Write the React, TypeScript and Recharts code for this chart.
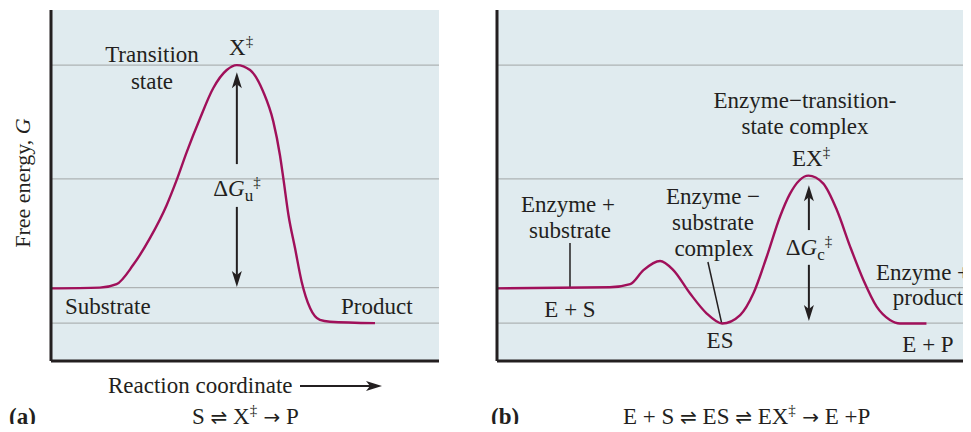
import React from "react";
import { LineChart, Line, XAxis, YAxis, CartesianGrid, ReferenceLine } from "recharts";

// energy levels (free energy, arbitrary units 0–100) shown as grid lines
const levels = [10.8, 20.9, 51.9, 84.3];

// (a) uncatalysed reaction: reaction coordinate vs free energy
const coordA = [0, 12.6, 16.9, 21.2, 25.5, 29.8, 32.4, 35, 38.4, 41.8, 45.3, 47.9, 51.3, 54.7, 57.3, 59, 59.9, 61.2, 62.9, 64.6, 66.8, 69.3, 71.9, 83.5];
const energyA = [20.7, 20.9, 21.9, 27.4, 35, 44.4, 51.6, 59.6, 69.1, 77.7, 82.9, 84.3, 82.9, 76.7, 68.2, 58.7, 51.9, 41.6, 32.1, 22.6, 15, 11.7, 11.2, 10.8];

// (b) enzyme-catalysed reaction
const coordB = [0, 23.8, 28.1, 30.9, 34.4, 37.2, 40.7, 44.2, 47.5, 51.3, 54.1, 56.9, 59.7, 61.8, 65.7, 68.8, 71.7, 74.5, 77.3, 80.1, 82.9, 85, 90.6];
const energyB = [20.7, 21, 21.9, 25.9, 28.5, 25.9, 19.3, 13.6, 10.7, 13.1, 19.3, 29.7, 41.1, 47.6, 52.8, 50.6, 43, 32.6, 23.1, 15.5, 11.7, 10.7, 10.7];

const dataA = coordA.map((x, i) => ({ x, g: energyA[i] }));
const dataB = coordB.map((x, i) => ({ x, g: energyB[i] }));

const INK = "#231f20";
const CURVE = "#a0105a";
const BG = "#e0ebef";
const GRID = "#aeb3b4";
const FONT = "'Liberation Serif', 'Times New Roman', serif";
const SYM = "'DejaVu Sans', sans-serif";

function arrowShape(props: any) {
  const { x1, y1, x2, y2 } = props;
  const dx = x2 - x1, dy = y2 - y1;
  const len = Math.hypot(dx, dy) || 1;
  const ux = dx / len, uy = dy / len;
  const hl = 16, hw = 5;
  const bx = x2 - ux * hl, by = y2 - uy * hl;
  return (
    <g>
      <line x1={x1} y1={y1} x2={bx + ux * 4} y2={by + uy * 4} stroke={INK} strokeWidth={2} />
      <polygon
        points={`${x2},${y2} ${bx - uy * hw},${by + ux * hw} ${bx + ux * 4},${by + uy * 4} ${bx + uy * hw},${by - ux * hw}`}
        fill={INK}
      />
    </g>
  );
}

function Panel({ data, width, left, right, children }: any) {
  return (
    <LineChart width={width} height={432} data={data} margin={{ top: 10, right, bottom: 69, left }}>
      <CartesianGrid horizontal={false} vertical={false} fill={BG} fillOpacity={1} />
      <XAxis type="number" dataKey="x" domain={[0, 100]} height={2} tick={false} tickLine={false}
        axisLine={{ stroke: INK, strokeWidth: 3 }} allowDataOverflow />
      <YAxis type="number" domain={[0, 100]} width={2} tick={false} tickLine={false}
        axisLine={{ stroke: INK, strokeWidth: 3 }} allowDataOverflow />
      {levels.map((v) => (
        <ReferenceLine key={v} y={v} stroke={GRID} strokeWidth={1.3} />
      ))}
      {children}
      <Line type="monotone" dataKey="g" stroke={CURVE} strokeWidth={2.4} dot={false} isAnimationActive={false} />
    </LineChart>
  );
}

const T = (p: any) => <text fontFamily={FONT} fontSize={23} fill={INK} {...p} />;
const Dagger = () => <tspan fontSize={15} dy={-9}>‡</tspan>;

export default function App() {
  return (
    <div style={{ position: "relative", width: 971, height: 432, margin: -8, overflow: "hidden", background: "#fff" }}>
      <div style={{ position: "absolute", left: 0, top: 0 }}>
        <Panel data={dataA} width={480} left={49} right={41}>
          <ReferenceLine segment={[{ x: 47.9, y: 56.1 }, { x: 47.9, y: 82.3 }]} shape={arrowShape} />
          <ReferenceLine segment={[{ x: 47.9, y: 43.9 }, { x: 47.9, y: 21.1 }]} shape={arrowShape} />
        </Panel>
      </div>
      <div style={{ position: "absolute", left: 480, top: 0 }}>
        <Panel data={dataB} width={491} left={15} right={0}>
          <ReferenceLine segment={[{ x: 65.8, y: 37.3 }, { x: 65.8, y: 50.1 }]} shape={arrowShape} />
          <ReferenceLine segment={[{ x: 65.8, y: 27.4 }, { x: 65.8, y: 11.4 }]} shape={arrowShape} />
          <ReferenceLine segment={[{ x: 15.4, y: 33.6 }, { x: 15.4, y: 20.8 }]} stroke={INK} strokeWidth={1.5} />
          <ReferenceLine segment={[{ x: 44.5, y: 28.2 }, { x: 47.4, y: 10.8 }]} stroke={INK} strokeWidth={1.5} />
        </Panel>
      </div>
      <svg width={971} height={432} style={{ position: "absolute", left: 0, top: 0, pointerEvents: "none" }}>
        {/* panel (a) */}
        <T x={152} y={62} textAnchor="middle">Transition</T>
        <T x={152} y={89} textAnchor="middle">state</T>
        <T x={229} y={55}>X<Dagger /></T>
        <T x={237} y={196} textAnchor="middle">
          Δ<tspan fontStyle="italic">G</tspan><tspan fontSize={17} dy={5}>u</tspan><tspan fontSize={15} dy={-14}>‡</tspan>
        </T>
        <T x={65} y={314}>Substrate</T>
        <T x={341} y={314}>Product</T>
        <T x={30} y={183} textAnchor="middle" fontSize={22} transform="rotate(-90 30 183)">
          Free energy, <tspan fontStyle="italic">G</tspan>
        </T>
        <T x={108} y={393}>Reaction coordinate</T>
        <line x1={300} y1={386} x2={372} y2={386} stroke={INK} strokeWidth={2} />
        <polygon points="382,386 366,381 370,386 366,391" fill={INK} />
        <T x={9} y={424} fontWeight="bold">(a)</T>
        <T x={192} y={424}>
          S <tspan fontFamily={SYM} fontSize={20}>⇌</tspan> X<Dagger />
          <tspan dy={9} fontFamily={SYM} fontSize={20}> →</tspan> P
        </T>

        {/* panel (b) */}
        <T x={805} y={108} textAnchor="middle">Enzyme−transition-</T>
        <T x={805} y={134} textAnchor="middle">state complex</T>
        <T x={792} y={166}>EX<Dagger /></T>
        <T x={568} y={212} textAnchor="middle">Enzyme +</T>
        <T x={570} y={238} textAnchor="middle">substrate</T>
        <T x={570} y={317} textAnchor="middle">E + S</T>
        <T x={666} y={204}>Enzyme −</T>
        <T x={713} y={230} textAnchor="middle">substrate</T>
        <T x={714} y={256} textAnchor="middle">complex</T>
        <T x={720} y={348} textAnchor="middle">ES</T>
        <T x={809} y={255} textAnchor="middle">
          Δ<tspan fontStyle="italic">G</tspan><tspan fontSize={17} dy={5}>c</tspan><tspan fontSize={15} dy={-14}>‡</tspan>
        </T>
        <T x={876} y={280}>Enzyme +</T>
        <T x={928} y={305} textAnchor="middle">product</T>
        <T x={928} y={352} textAnchor="middle">E + P</T>
        <T x={491} y={424} fontWeight="bold">(b)</T>
        <T x={623} y={424}>
          E + S <tspan fontFamily={SYM} fontSize={20}>⇌</tspan> ES <tspan fontFamily={SYM} fontSize={20}>⇌</tspan> EX<Dagger />
          <tspan dy={9} fontFamily={SYM} fontSize={20}> →</tspan> E +P
        </T>
      </svg>
    </div>
  );
}
